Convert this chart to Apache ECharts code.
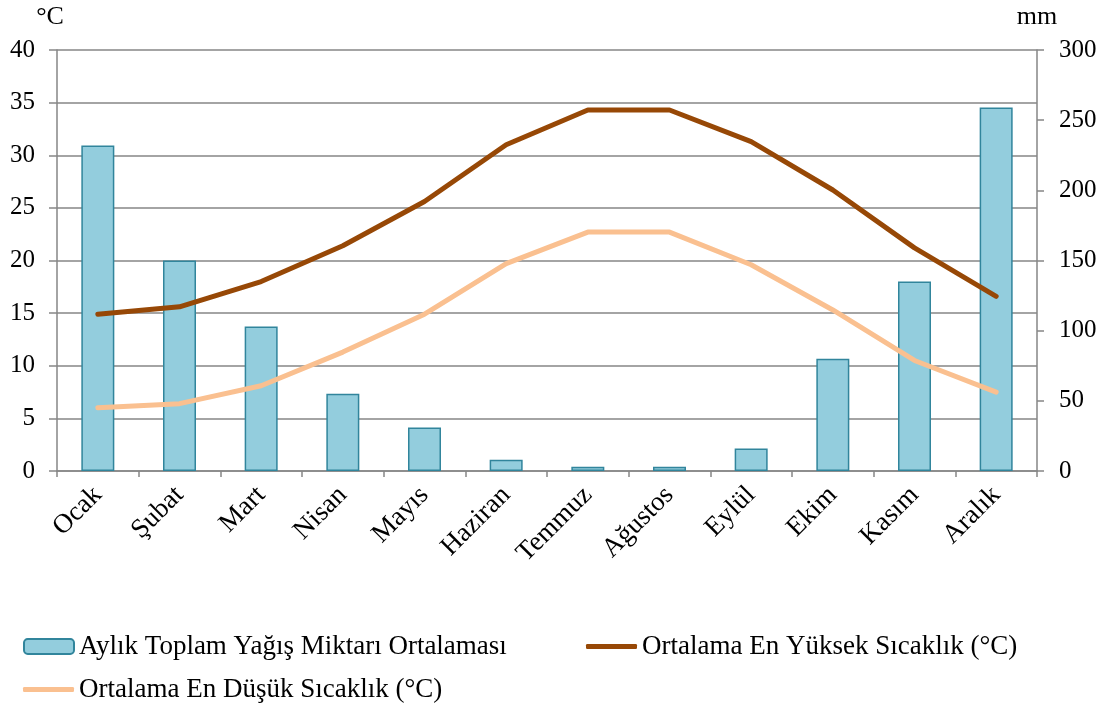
<!DOCTYPE html>
<html>
<head>
<meta charset="utf-8">
<script src="https://cdn.jsdelivr.net/npm/echarts@6/dist/echarts.min.js"></script>
<style>
  html, body { margin: 0; padding: 0; background: #fff; }
  #chart { width: 1105px; height: 707px; }
</style>
</head>
<body>
<div id="chart"></div>
<script>
const months = ["Ocak", "Şubat", "Mart", "Nisan", "Mayıs", "Haziran", "Temmuz", "Ağustos", "Eylül", "Ekim", "Kasım", "Aralık"];
const rain = [232, 150, 103, 55, 31, 8, 3, 3, 16, 80, 135, 259];
const highTemp = [14.9, 15.6, 18.0, 21.4, 25.6, 31.0, 34.3, 34.3, 31.3, 26.7, 21.2, 16.6];
const lowTemp = [6.0, 6.4, 8.1, 11.3, 14.9, 19.7, 22.7, 22.7, 19.6, 15.3, 10.5, 7.5];

const rainName = "Aylık Toplam Yağış Miktarı Ortalaması";
const highName = "Ortalama En Yüksek Sıcaklık (°C)";
const lowName = "Ortalama En Düşük Sıcaklık (°C)";

const font = "'Liberation Serif', 'DejaVu Serif', serif";
const gray = "#868686";

const chart = echarts.init(document.getElementById("chart"));

const legendText = { fontFamily: font, fontSize: 27, color: "#000" };

const options = {
  animation: false,
  textStyle: { fontFamily: font },
  grid: { left: 57, right: 68, top: 50, bottom: 236 },
  legend: [
    {
      data: [rainName], left: 18, top: 628, itemWidth: 50, itemHeight: 15, itemGap: 6,
      textStyle: legendText
    },
    {
      data: [highName], left: 581, top: 628, itemWidth: 51, itemHeight: 5,
      textStyle: legendText, icon: "roundRect"
    },
    {
      data: [lowName], left: 18, top: 671, itemWidth: 51, itemHeight: 5,
      textStyle: legendText, icon: "roundRect"
    }
  ],
  xAxis: {
    type: "category",
    data: months,
    axisLine: { lineStyle: { color: gray, width: 1.5 } },
    axisTick: { show: true, length: 6, lineStyle: { color: gray, width: 1.5 } },
    axisLabel: { rotate: 45, color: "#000", fontSize: 27, fontFamily: font, margin: 20 }
  },
  yAxis: [
    {
      type: "value", min: 0, max: 40, interval: 5, position: "left",
      name: "°C", nameLocation: "end", nameGap: 20,
      nameTextStyle: { color: "#000", fontSize: 26, fontFamily: font, align: "center", padding: [0, 14, 0, 0] },
      axisLine: { show: true, lineStyle: { color: gray, width: 1.5 } },
      axisTick: { show: true, length: 8, lineStyle: { color: gray, width: 1.5 } },
      axisLabel: { color: "#000", fontSize: 25, fontFamily: font, margin: 22 },
      splitLine: { lineStyle: { color: gray, width: 1.5 } }
    },
    {
      type: "value", min: 0, max: 300, interval: 50, position: "right",
      name: "mm", nameLocation: "end", nameGap: 20,
      nameTextStyle: { color: "#000", fontSize: 26, fontFamily: font, align: "center" },
      axisLine: { show: true, lineStyle: { color: gray, width: 1.5 } },
      axisTick: { show: true, length: 7, lineStyle: { color: gray, width: 1.5 } },
      axisLabel: { color: "#000", fontSize: 25, fontFamily: font, margin: 22 },
      splitLine: { show: false }
    }
  ],
  series: [
    {
      name: rainName,
      type: "bar",
      yAxisIndex: 1,
      data: rain,
      barWidth: 33,
      itemStyle: { color: "#93CDDD", borderColor: "#31859C", borderWidth: 1.5 }
    },
    {
      name: highName,
      type: "line",
      yAxisIndex: 0,
      data: highTemp,
      showSymbol: false,
      symbol: "none",
      itemStyle: { color: "#974806" },
      lineStyle: { color: "#974806", width: 5, cap: "round", join: "round" }
    },
    {
      name: lowName,
      type: "line",
      yAxisIndex: 0,
      data: lowTemp,
      showSymbol: false,
      symbol: "none",
      itemStyle: { color: "#FAC090" },
      lineStyle: { color: "#FAC090", width: 5, cap: "round", join: "round" }
    }
  ]
};

chart.setOption(options);

window.addEventListener("resize", () => chart.resize());
</script>
</body>
</html>
